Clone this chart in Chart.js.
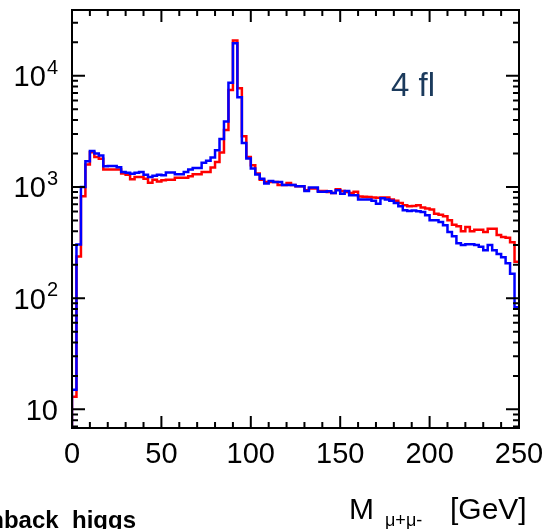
<!DOCTYPE html>
<html>
<head>
<meta charset="utf-8">
<script src="https://cdn.jsdelivr.net/npm/chart.js@4.4.1/dist/chart.umd.min.js"></script>
<style>
  html, body { margin: 0; padding: 0; background: #ffffff; }
  #wrap { position: relative; width: 546px; height: 529px; }
</style>
</head>
<body>
<div id="wrap"><canvas id="massChart" width="546" height="529"></canvas></div>
<script>
// histogram binning: 100 bins of 2.5 GeV from 0 to 250
const binLow = 0;
const binWidth = 2.5;
const xTickLabels = ["0", "50", "100", "150", "200", "250"];
const yMajorTicks = [10, 100, 1000, 10000];
const yTickExponents = ["", "2", "3", "4"];

// blue histogram (drawn on top)
const blueCounts = [
  15, 303, 1000, 1706, 2110, 2000, 1919, 1536, 1540, 1540,
  1500, 1365, 1340, 1313, 1340, 1360, 1285, 1230, 1260, 1290,
  1274, 1350, 1350, 1300, 1300, 1365, 1435, 1480, 1480, 1650,
  1720, 1840, 2143, 2700, 3870, 8650, 19600, 6390, 2490, 1800,
  1466, 1295, 1184, 1073, 1130, 1110, 1110, 1040, 1040, 1040,
  1015, 1015, 920, 990, 990, 906, 906, 915, 880, 934,
  870, 920, 841, 841, 770, 770, 770, 750, 708, 790,
  770, 750, 718, 670, 617, 607, 615, 605, 596, 556,
  501, 501, 483, 452, 393, 360, 311, 300, 305, 305,
  300, 290, 269, 300, 269, 250, 233, 206, 166, 83
];

// red histogram
const redCounts = [
  13, 237, 824, 1592, 2055, 1862, 1790, 1435, 1435, 1435,
  1435, 1320, 1290, 1170, 1230, 1230, 1185, 1093, 1160, 1120,
  1148, 1160, 1160, 1210, 1210, 1210, 1250, 1300, 1300, 1365,
  1365, 1495, 1680, 2045, 3250, 7440, 20700, 7700, 2860, 1860,
  1568, 1320, 1160, 1106, 1106, 1110, 1040, 1040, 1087, 1040,
  1015, 1015, 934, 970, 970, 920, 920, 900, 880, 955,
  920, 900, 880, 906, 822, 815, 812, 805, 800, 805,
  805, 770, 750, 718, 684, 670, 675, 684, 655, 640,
  628, 575, 562, 546, 501, 457, 443, 400, 436, 400,
  413, 413, 393, 421, 421, 369, 355, 350, 318, 212
];

const X_MIN = 0, X_MAX = 250;
const Y_MIN = 6.8, Y_MAX = 39000;

// left bin edges + closing edge, drawn as a step line
function histPoints(counts) {
  const pts = [{ x: binLow, y: 1 }];
  counts.forEach((c, i) => pts.push({ x: binLow + (i + 1) * binWidth, y: c }));
  return pts;
}

const FONT = '"Liberation Sans", Arial, Helvetica, sans-serif';

// ROOT-like frame, inward ticks and the extra labels
const rootFrame = {
  id: "rootFrame",
  afterDraw(chart) {
    const { ctx, chartArea: a, scales } = chart;
    const xs = scales.x, ys = scales.y;
    ctx.save();
    ctx.strokeStyle = "#000";
    ctx.lineWidth = 2;
    ctx.strokeRect(a.left, a.top, a.right - a.left, a.bottom - a.top);

    ctx.beginPath();
    for (let v = X_MIN; v <= X_MAX; v += 10) {
      const px = xs.getPixelForValue(v);
      const len = v % 50 === 0 ? 12 : 6;
      ctx.moveTo(px, a.bottom); ctx.lineTo(px, a.bottom - len);
      ctx.moveTo(px, a.top); ctx.lineTo(px, a.top + len);
    }
    for (let d = 1; d <= 10000; d *= 10) {
      for (let m = 1; m <= 9; m++) {
        const v = d * m;
        if (v < Y_MIN || v > Y_MAX) continue;
        const py = ys.getPixelForValue(v);
        const len = m === 1 ? 13 : 6;
        ctx.moveTo(a.left, py); ctx.lineTo(a.left + len, py);
        ctx.moveTo(a.right, py); ctx.lineTo(a.right - len, py);
      }
    }
    ctx.stroke();

    // y labels 10, 10^2 ...
    ctx.fillStyle = "#000";
    ctx.textBaseline = "alphabetic";
    yMajorTicks.forEach((v, i) => {
      const py = ys.getPixelForValue(v);
      const exp = yTickExponents[i];
      const right = 58;
      ctx.font = "20px " + FONT;
      const ew = exp ? ctx.measureText(exp).width : 0;
      ctx.textAlign = "right";
      if (exp) ctx.fillText(exp, right, py - 2);
      ctx.font = "29px " + FONT;
      ctx.fillText("10", right - ew - (exp ? 1 : 0), py + 10.5);
    });

    // x axis title
    ctx.textAlign = "left";
    ctx.font = "30px " + FONT;
    ctx.fillText("M", 349, 519);
    ctx.font = "18px " + FONT;
    ctx.fillText("\u03bc+\u03bc-", 385, 526);
    ctx.font = "30px " + FONT;
    ctx.fillText("[GeV]", 450, 519);

    // label inside the frame
    ctx.fillStyle = "#1b3a5c";
    ctx.font = "33px " + FONT;
    ctx.fillText("4 fl", 391, 96);

    // clipped run name bottom left
    ctx.fillStyle = "#000";
    ctx.font = "bold 24px " + FONT;
    ctx.textAlign = "right";
    ctx.fillText("nback_higgs", 136, 528);
    ctx.restore();
  }
};

const ctx = document.getElementById("massChart");

new Chart(ctx, {
  type: "line",
  data: {
    datasets: [
      {
        label: "blue",
        data: histPoints(blueCounts),
        borderColor: "#0000ff",
        borderWidth: 2.5,
        stepped: "after",
        pointRadius: 0,
        fill: false,
        order: 0,
      },
      {
        label: "red",
        data: histPoints(redCounts),
        borderColor: "#ff0000",
        borderWidth: 2.5,
        stepped: "after",
        pointRadius: 0,
        fill: false,
        order: 1,
      },
    ],
  },
  options: {
    responsive: false,
    animation: false,
    layout: { padding: { top: 10, right: 27, left: 0, bottom: 0 } },
    plugins: {
      legend: { display: false },
      tooltip: { enabled: false },
    },
    scales: {
      x: {
        type: "linear",
        min: X_MIN,
        max: X_MAX,
        border: { display: false },
        grid: { display: false, drawTicks: false },
        afterBuildTicks: (scale) => {
          scale.ticks = xTickLabels.map((t) => ({ value: Number(t) }));
        },
        ticks: {
          autoSkip: false,
          maxRotation: 0,
          padding: 10,
          color: "#000",
          font: { family: FONT, size: 29 },
          callback: (v) => String(v),
        },
        afterFit: (scale) => {
          scale.height = 101;
          scale.paddingLeft = 0;
          scale.paddingRight = 0;
        },
      },
      y: {
        type: "logarithmic",
        min: Y_MIN,
        max: Y_MAX,
        border: { display: false },
        grid: { display: false, drawTicks: false },
        ticks: { display: false },
        afterFit: (scale) => { scale.width = 72; },
      },
    },
  },
  plugins: [rootFrame],
});
</script>
</body>
</html>
